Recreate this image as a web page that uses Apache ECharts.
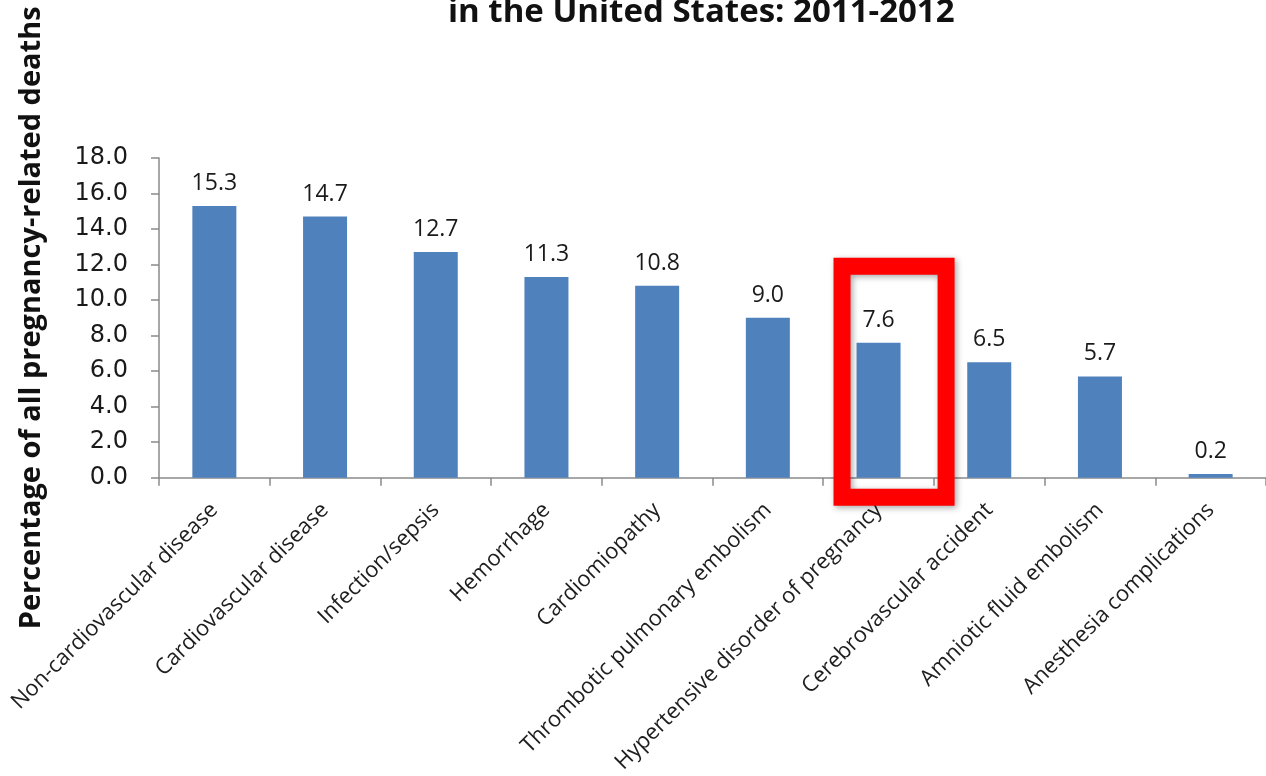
<!DOCTYPE html>
<html>
<head>
<meta charset="utf-8">
<script src="https://cdn.jsdelivr.net/npm/echarts@6/dist/echarts.min.js"></script>
<style>
  html, body { margin: 0; padding: 0; background: #ffffff; }
  #chart { width: 1266px; height: 776px; }
</style>
</head>
<body>
<div id="chart"></div>
<script>
// ---- data ----
const categories = [
  'Non-cardiovascular disease',
  'Cardiovascular disease',
  'Infection/sepsis',
  'Hemorrhage',
  'Cardiomiopathy',
  'Thrombotic pulmonary embolism',
  'Hypertensive disorder of pregnancy',
  'Cerebrovascular accident',
  'Amniotic fluid embolism',
  'Anesthesia complications'
];
const values = [15.3, 14.7, 12.7, 11.3, 10.8, 9.0, 7.6, 6.5, 5.7, 0.2];
const yTicks = [0, 2, 4, 6, 8, 10, 12, 14, 16, 18];
const titleText = 'in the United States: 2011-2012';
const yAxisTitle = 'Percentage of all pregnancy-related deaths';
// highlighted category and the value range its frame covers
const highlightCategory = 'Hypertensive disorder of pregnancy';
const highlightRange = [-1.1, 11.9];

const chart = echarts.init(document.getElementById('chart'), null, { renderer: 'canvas' });

const option = {
  backgroundColor: '#ffffff',
  animation: false,
  title: {
    text: titleText,
    left: 443,
    top: -9,
    textStyle: { fontFamily: 'Open Sans', fontWeight: 'bold', fontSize: 33, color: '#111111' }
  },
  grid: { left: 159, top: 158, width: 1122, height: 322, containLabel: false },
  xAxis: {
    type: 'category',
    data: categories,
    axisLine: { lineStyle: { color: '#8a8a8a', width: 1.5 } },
    axisTick: { show: true, length: 8, lineStyle: { color: '#8a8a8a', width: 1.5 } },
    axisLabel: {
      rotate: 45, margin: 29, interval: 0,
      fontFamily: 'Open Sans', fontSize: 22, color: '#1e1e1e'
    }
  },
  yAxis: {
    type: 'value',
    min: yTicks[0],
    max: yTicks[yTicks.length - 1],
    interval: 2,
    name: yAxisTitle,
    nameLocation: 'middle',
    nameGap: 113,
    nameTextStyle: { fontFamily: 'Open Sans', fontWeight: 'bold', fontSize: 29, color: '#111111' },
    axisLine: { show: true, lineStyle: { color: '#8a8a8a', width: 1.5 } },
    axisTick: { show: true, length: 8, lineStyle: { color: '#8a8a8a', width: 1.5 } },
    splitLine: { show: false },
    axisLabel: {
      margin: 31,
      fontFamily: 'DejaVu Sans', fontSize: 24, color: '#1a1a1a',
      formatter: v => v.toFixed(1)
    }
  },
  series: [{
    type: 'bar',
    data: values,
    barWidth: 44,
    itemStyle: { color: '#4F81BD' },
    label: {
      show: true, position: 'top', distance: 11,
      fontFamily: 'Open Sans', fontSize: 23, color: '#1a1a1a',
      formatter: p => p.value.toFixed(1)
    }
  }]
};
chart.setOption(option);

// red highlight frame anchored to the highlighted category
const idx = categories.indexOf(highlightCategory);
const c0 = chart.convertToPixel({ gridIndex: 0 }, [idx, highlightRange[1]]);
const c1 = chart.convertToPixel({ gridIndex: 0 }, [idx, highlightRange[0]]);
const band = chart.convertToPixel({ gridIndex: 0 }, [1, 0])[0] - chart.convertToPixel({ gridIndex: 0 }, [0, 0])[0];
const cx = c0[0] + band * 0.14;
const halfW = band * 0.47;
chart.setOption({
  graphic: [{
    type: 'rect',
    shape: { x: cx - halfW, y: c0[1], width: halfW * 2, height: c1[1] - c0[1] },
    style: {
      fill: 'none', stroke: '#ff0000', lineWidth: 17,
      shadowBlur: 6, shadowColor: 'rgba(0,0,0,0.35)', shadowOffsetX: 2, shadowOffsetY: 2
    },
    z: 100
  }]
});
</script>
</body>
</html>
